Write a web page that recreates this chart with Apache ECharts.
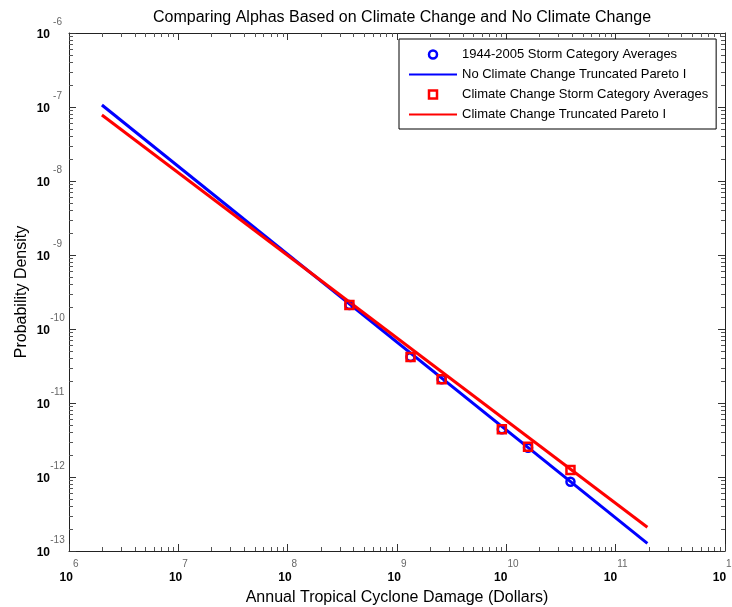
<!DOCTYPE html>
<html>
<head>
<meta charset="utf-8">
<script src="https://cdn.jsdelivr.net/npm/echarts@6/dist/echarts.min.js"></script>
<style>html,body{margin:0;padding:0;background:#fff}#c{width:732px;height:607px}</style>
</head>
<body>
<div id="c"></div>
<script>
// ---- data ----
const catX   = [3.67e8, 1.33e9, 2.56e9, 9.10e9, 1.58e10, 3.86e10];
const histY  = [2.11e-10, 4.19e-11, 2.09e-11, 4.42e-12, 2.49e-12, 8.63e-13];
const ccY    = [2.11e-10, 4.19e-11, 2.09e-11, 4.42e-12, 2.56e-12, 1.245e-12];
const fitX   = [2.0e6, 1.95e11];
const noCCFitY = [1.064e-7, 1.27e-13];
const ccFitY   = [7.80e-8, 2.09e-13];
const xExps = [6, 7, 8, 9, 10, 11, 12];
const yExps = [-13, -12, -11, -10, -9, -8, -7, -6];
const seriesNames = [
  '1944-2005 Storm Category Averages',
  'No Climate Change Truncated Pareto I',
  'Climate Change Storm Category Averages',
  'Climate Change Truncated Pareto I'
];
const title = 'Comparing Alphas Based on Climate Change and No Climate Change';
const xName = 'Annual Tropical Cyclone Damage (Dollars)';
const yName = 'Probability Density';

const FONT = '"Liberation Sans", Arial, Helvetica, sans-serif';
const BLUE = '#0000ff', RED = '#ff0000';
const xMin = Math.pow(10, xExps[0]), xMax = Math.pow(10, xExps[xExps.length - 1]);
const yMin = Math.pow(10, yExps[0]), yMax = Math.pow(10, yExps[yExps.length - 1]);

function zipXY(xs, ys) { return xs.map((x, i) => [x, ys[i]]); }
function expOf(v) { return Math.round(Math.log10(v)); }

// minor tick positions (k * 10^n, k = 2..9)
const xMinor = [], yMinor = [];
for (let n = xExps[0]; n < xExps[xExps.length - 1]; n++)
  for (let k = 2; k <= 9; k++) xMinor.push([k * Math.pow(10, n), yMin]);
for (let n = yExps[0]; n < yExps[yExps.length - 1]; n++)
  for (let k = 2; k <= 9; k++) yMinor.push([xMin, k * Math.pow(10, n)]);

const chart = echarts.init(document.getElementById('c'), null, {renderer: 'canvas'});

const tickColor = '#333';
const axisCommon = {
  type: 'log', logBase: 10,
  axisLine: {show: true, onZero: false, lineStyle: {color: '#222', width: 1}},
  axisTick: {show: true, inside: true, length: 7, lineStyle: {color: tickColor}},
  splitLine: {show: false},
  minorTick: {show: false}
};
const HOLLOW = 'rgba(0,0,0,0)';

const option = {
  backgroundColor: '#fff',
  animation: false,
  title: {
    text: title, left: 397, top: 5, textAlign: 'center',
    textStyle: {fontFamily: FONT, fontSize: 16, fontWeight: 'normal', color: '#000'}
  },
  legend: {
    orient: 'vertical', left: 399, top: 39,
    padding: [9, 8, 8, 9], itemGap: 7, itemWidth: 48, itemHeight: 8,
    borderColor: '#000', borderWidth: 1, backgroundColor: '#fff',
    textStyle: {fontFamily: FONT, fontSize: 13, lineHeight: 12, color: '#000'},
    data: [
      {name: seriesNames[0], icon: 'circle', itemStyle: {color: HOLLOW, borderColor: BLUE, borderWidth: 2.5}},
      {name: seriesNames[1], itemStyle: {opacity: 0}},
      {name: seriesNames[2], icon: 'path://M0,0 L10,0 L10,10 L0,10 Z', itemStyle: {color: HOLLOW, borderColor: RED, borderWidth: 2.5}},
      {name: seriesNames[3], itemStyle: {opacity: 0}}
    ]
  },
  grid: {left: 69, right: 7, top: 33, bottom: 56, containLabel: false, outerBoundsMode: 'none'},
  xAxis: [
    Object.assign({}, axisCommon, {
      position: 'bottom', min: xMin, max: xMax,
      name: xName, nameLocation: 'middle', nameGap: 39,
      nameTextStyle: {fontFamily: FONT, fontSize: 16, color: '#000'},
      axisLabel: {
        show: true, margin: 14, showMinLabel: true, showMaxLabel: true,
        formatter: v => '{b|10}{e|' + expOf(v) + '}',
        rich: {
          b: {fontFamily: FONT, fontSize: 12, fontWeight: 'bold', color: '#000', lineHeight: 13, padding: [12, 0, 0, 0]},
          e: {fontFamily: FONT, fontSize: 10, color: '#666', lineHeight: 11, padding: [0, 0, 14, 0]}
        }
      }
    }),
    Object.assign({}, axisCommon, {
      position: 'top', min: xMin, max: xMax,
      axisLabel: {show: false}
    })
  ],
  yAxis: [
    Object.assign({}, axisCommon, {
      position: 'left', min: yMin, max: yMax,
      name: yName, nameLocation: 'middle', nameGap: 39, nameRotate: 90, nameMoveOverlap: false,
      nameTextStyle: {fontFamily: FONT, fontSize: 16, color: '#000'},
      axisLabel: {
        show: true, margin: 4, showMinLabel: true, showMaxLabel: true,
        formatter: v => '{b|10}{e|' + expOf(v) + '}',
        rich: {
          b: {fontFamily: FONT, fontSize: 12, fontWeight: 'bold', color: '#000', lineHeight: 13, padding: [11.5, 0, 7.5, 0]},
          e: {fontFamily: FONT, fontSize: 10, color: '#666', lineHeight: 11, width: 15, align: 'left', padding: [0, 0, 21, 0]}
        }
      }
    }),
    Object.assign({}, axisCommon, {
      position: 'right', min: yMin, max: yMax,
      axisLabel: {show: false}
    })
  ],
  series: [
    {
      name: seriesNames[0], type: 'scatter', data: zipXY(catX, histY),
      symbol: 'circle', symbolSize: 8, z: 4,
      itemStyle: {color: HOLLOW, borderColor: BLUE, borderWidth: 2.5, opacity: 1}
    },
    {
      name: seriesNames[1], type: 'line', data: zipXY(fitX, noCCFitY),
      showSymbol: false, symbol: 'none', z: 2,
      lineStyle: {color: BLUE, width: 3}, itemStyle: {color: BLUE}
    },
    {
      name: seriesNames[2], type: 'scatter', data: zipXY(catX, ccY),
      symbol: 'rect', symbolSize: 8, z: 5,
      itemStyle: {color: HOLLOW, borderColor: RED, borderWidth: 2.5, opacity: 1}
    },
    {
      name: seriesNames[3], type: 'line', data: zipXY(fitX, ccFitY),
      showSymbol: false, symbol: 'none', z: 3,
      lineStyle: {color: RED, width: 3}, itemStyle: {color: RED}
    },
    {
      name: 'xMinor', type: 'custom', silent: true, z: 1, data: xMinor,
      renderItem: function (params, api) {
        const v = api.value(0);
        const pb = api.coord([v, yMin]);
        const pt = api.coord([v, yMax]);
        const x = Math.round(pb[0]) + 0.5;
        return {type: 'group', children: [
          {type: 'line', shape: {x1: x, y1: pb[1], x2: x, y2: pb[1] - 4}, style: {stroke: '#555', lineWidth: 1}},
          {type: 'line', shape: {x1: x, y1: pt[1], x2: x, y2: pt[1] + 4}, style: {stroke: '#555', lineWidth: 1}}
        ]};
      }
    },
    {
      name: 'yMinor', type: 'custom', silent: true, z: 1, data: yMinor,
      renderItem: function (params, api) {
        const v = api.value(1);
        const pl = api.coord([xMin, v]);
        const pr = api.coord([xMax, v]);
        const y = Math.round(pl[1]) + 0.5;
        return {type: 'group', children: [
          {type: 'line', shape: {x1: pl[0], y1: y, x2: pl[0] + 4, y2: y}, style: {stroke: '#555', lineWidth: 1}},
          {type: 'line', shape: {x1: pr[0], y1: y, x2: pr[0] - 4, y2: y}, style: {stroke: '#555', lineWidth: 1}}
        ]};
      }
    }
  ]
};
chart.setOption(option);
</script>
</body>
</html>
